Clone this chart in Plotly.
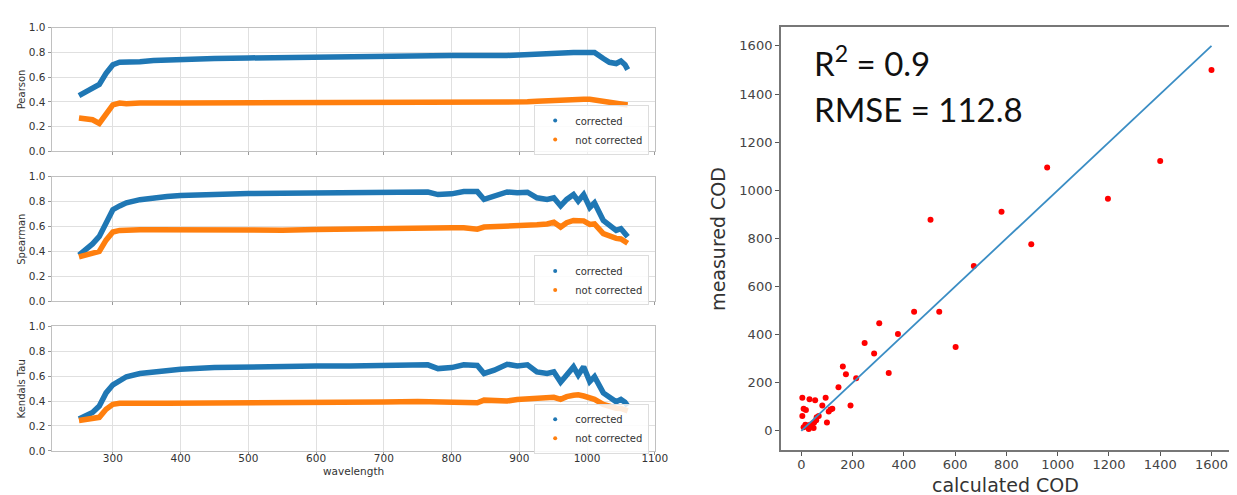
import plotly.graph_objects as go

# ---------------- data ----------------
wavelength = [250, 260, 270, 280, 290, 300, 310, 320, 340, 360, 380, 400, 450, 500, 550, 600,
              650, 700, 750, 765, 780, 800, 818, 838, 848, 863, 882, 897, 912, 926, 941, 951,
              961, 970, 980, 987, 995, 1004, 1011, 1024, 1033, 1043, 1050, 1056, 1060]

pearson_corr = [0.45, 0.48, 0.51, 0.54, 0.63, 0.70, 0.72, 0.72, 0.725, 0.735, 0.74, 0.745, 0.75, 0.755,
                0.76, 0.76, 0.765, 0.77, 0.77, 0.775, 0.775, 0.775, 0.775, 0.77, 0.775, 0.775, 0.775,
                0.78, 0.785, 0.79, 0.795, 0.80, 0.80, 0.805, 0.80, 0.80, 0.80, 0.80, 0.80, 0.75, 0.72,
                0.71, 0.73, 0.70, 0.66]
pearson_not = [0.27, 0.265, 0.255, 0.225, 0.31, 0.375, 0.39, 0.385, 0.39, 0.395, 0.39, 0.39, 0.39, 0.39,
               0.39, 0.39, 0.39, 0.39, 0.39, 0.39, 0.39, 0.39, 0.39, 0.39, 0.39, 0.392, 0.393,
               0.395, 0.40, 0.405, 0.41, 0.415, 0.415, 0.42, 0.415, 0.42, 0.42, 0.42, 0.415, 0.41, 0.40,
               0.395, 0.39, 0.385, 0.375]

spearman_corr = [0.37, 0.41, 0.46, 0.52, 0.64, 0.735, 0.765, 0.79, 0.815, 0.83, 0.84, 0.848, 0.86, 0.865,
                 0.867, 0.869, 0.87, 0.87, 0.87, 0.877, 0.856, 0.862, 0.88, 0.88, 0.817, 0.843, 0.877,
                 0.87, 0.875, 0.83, 0.817, 0.83, 0.765, 0.817, 0.856, 0.804, 0.856, 0.752, 0.79, 0.648,
                 0.608, 0.569, 0.582, 0.55, 0.517]
spearman_not = [0.355, 0.37, 0.38, 0.40, 0.49, 0.555, 0.568, 0.572, 0.574, 0.574, 0.573, 0.572, 0.57, 0.568,
                0.57, 0.575, 0.58, 0.587, 0.595, 0.595, 0.59, 0.59, 0.59, 0.578, 0.595, 0.597, 0.60,
                0.61, 0.614, 0.614, 0.62, 0.634, 0.595, 0.63, 0.648, 0.648, 0.645, 0.616, 0.62, 0.543,
                0.52, 0.504, 0.50, 0.48, 0.465]

kendall_corr = [0.256, 0.28, 0.308, 0.36, 0.465, 0.53, 0.569, 0.595, 0.621, 0.634, 0.645, 0.655, 0.668, 0.674,
                0.678, 0.681, 0.681, 0.681, 0.68, 0.69, 0.66, 0.668, 0.69, 0.685, 0.621, 0.647, 0.695,
                0.681, 0.69, 0.634, 0.621, 0.634, 0.551, 0.608, 0.674, 0.608, 0.674, 0.556, 0.595, 0.465,
                0.426, 0.394, 0.413, 0.39, 0.36]
kendall_not = [0.243, 0.25, 0.256, 0.269, 0.334, 0.373, 0.381, 0.383, 0.383, 0.382, 0.382, 0.382, 0.382, 0.385,
               0.385, 0.388, 0.39, 0.392, 0.396, 0.396, 0.394, 0.394, 0.394, 0.386, 0.407, 0.405, 0.40,
               0.412, 0.418, 0.418, 0.42, 0.43, 0.413, 0.435, 0.446, 0.45, 0.44, 0.43, 0.413, 0.373,
               0.355, 0.342, 0.34, 0.33, 0.321]

calculated_cod = [1600, 1400, 959, 1196, 504, 781, 897, 673, 440, 538, 304, 377, 247, 284, 602, 162, 174,
                  341, 214, 145, 95, 82, 192, 4, 32, 54, 9, 18, 4, 114, 121, 107, 68, 60, 100, 9, 22, 35,
                  48, 50, 58, 29, 42, 16]
measured_cod = [1500, 1122, 1095, 965, 878, 911, 776, 685, 495, 495, 447, 403, 365, 322, 349, 268, 236,
                241, 219, 181, 138, 106, 106, 138, 132, 127, 92, 87, 62, 89, 92, 81, 62, 57, 35, 15, 22, 26,
                12, 35, 44, 8, 18, 26]
fit_x = [0, 1600]
fit_y = [0, 1600]

panel_names = ["Pearson", "Spearman", "Kendals Tau"]
series_labels = ["corrected", "not corrected"]
r2_text = "R<sup>2</sup> = 0.9"
rmse_text = "RMSE = 112.8"

# ---------------- layout ----------------
W, H = 1237, 495
BLUE, ORANGE = "#1f77b4", "#ff7f0e"
FONT = "DejaVu Sans"

def px_x(p):
    return p / W

def px_y(p):
    return 1 - p / H

left_dom = [px_x(44), px_x(654)]
panel_px = [(14, 140.7), (166.7, 294.3), (320, 447.7)]
legend_mid_px = [119, 273, 425]

fig = go.Figure()

data_sets = [(pearson_corr, pearson_not), (spearman_corr, spearman_not), (kendall_corr, kendall_not)]
layout = dict()
annotations = []
for i, (corr, notc) in enumerate(data_sets):
    n = i + 1
    xa = "x" if n == 1 else f"x{n}"
    ya = "y" if n == 1 else f"y{n}"
    leg = "legend" if n == 1 else f"legend{n}"
    fig.add_trace(go.Scatter(x=wavelength, y=corr, mode="lines", line=dict(color=BLUE, width=5.5),
                             xaxis=xa, yaxis=ya, showlegend=False, hoverinfo="skip"))
    fig.add_trace(go.Scatter(x=wavelength, y=notc, mode="lines", line=dict(color=ORANGE, width=5.5),
                             xaxis=xa, yaxis=ya, showlegend=False, hoverinfo="skip"))
    # legend entries (marker style as in the reference)
    fig.add_trace(go.Scatter(x=[None], y=[None], mode="markers", name=series_labels[0],
                             marker=dict(color=BLUE, size=4), xaxis=xa, yaxis=ya, legend=leg))
    fig.add_trace(go.Scatter(x=[None], y=[None], mode="markers", name=series_labels[1],
                             marker=dict(color=ORANGE, size=4), xaxis=xa, yaxis=ya, legend=leg))
    top, bot = panel_px[i]
    layout[f"xaxis{'' if n == 1 else n}"] = dict(
        domain=left_dom, anchor=ya, range=[209.5, 1100.5], tickmode="array",
        tickvals=[300, 400, 500, 600, 700, 800, 900, 1000, 1100],
        showticklabels=(n == 3), ticks="outside", ticklen=3, tickcolor="#999",
        ticklabelstandoff=-5,
        showgrid=True, gridcolor="#e0e0e0", gridwidth=1, zeroline=False,
        showline=True, linecolor="#c0c0c0", linewidth=1, mirror=True,
        tickfont=dict(family=FONT, size=10.5, color="#333"))
    layout[f"yaxis{'' if n == 1 else n}"] = dict(
        domain=[px_y(bot), px_y(top)], anchor=xa, range=[0, 1], tickmode="array",
        tickvals=[0, 0.2, 0.4, 0.6, 0.8, 1.0], ticktext=["0.0", "0.2", "0.4", "0.6", "0.8", "1.0"],
        ticks="outside", ticklen=3, tickcolor="#999",
        showgrid=True, gridcolor="#e0e0e0", gridwidth=1, zeroline=False,
        showline=True, linecolor="#c0c0c0", linewidth=1, mirror=True,
        tickfont=dict(family=FONT, size=10.5, color="#333"))
    layout[leg] = dict(x=px_x(648), y=px_y(legend_mid_px[i]), xanchor="right", yanchor="middle",
                       bgcolor="rgba(255,255,255,0.85)", bordercolor="#dddddd", borderwidth=1,
                       font=dict(family=FONT, size=10, color="#333"), itemwidth=30,
                       tracegroupgap=0)
    annotations.append(dict(text=panel_names[i], x=px_x(14), y=px_y((top + bot) / 2), xref="paper",
                            yref="paper", textangle=-90, showarrow=False, xanchor="center",
                            yanchor="middle", font=dict(family=FONT, size=10, color="#333")))

annotations.append(dict(text="wavelength", x=px_x(349), y=px_y(468), xref="paper", yref="paper",
                        showarrow=False, xanchor="center", yanchor="middle",
                        font=dict(family=FONT, size=10.5, color="#333")))

# scatter panel
fig.add_trace(go.Scatter(x=calculated_cod, y=measured_cod, mode="markers",
                         marker=dict(color="#ff0000", size=6), xaxis="x4", yaxis="y4",
                         showlegend=False))
fig.add_trace(go.Scatter(x=fit_x, y=fit_y, mode="lines", line=dict(color="#3a8dc4", width=1.8),
                         xaxis="x4", yaxis="y4", showlegend=False))

layout["xaxis4"] = dict(domain=[px_x(781), 1.0], anchor="y4", range=[-80, 1680], tickmode="array",
                        tickvals=list(range(0, 1601, 200)), ticks="outside", ticklen=4, tickcolor="#555",
                        ticklabelstandoff=-3,
                        showgrid=False, zeroline=False, showline=True, linecolor="#777", linewidth=1.5,
                        mirror=True, tickfont=dict(family=FONT, size=13, color="#444"))
layout["yaxis4"] = dict(domain=[px_y(447), px_y(13)], anchor="x4", range=[-80, 1680], tickmode="array",
                        tickvals=list(range(0, 1601, 200)), ticks="outside", ticklen=4, tickcolor="#555",
                        showgrid=False, zeroline=False, showline=True, linecolor="#777", linewidth=1.5,
                        mirror=True, tickfont=dict(family=FONT, size=13, color="#444"))

annotations.append(dict(text="calculated COD", x=px_x(1008), y=px_y(483), xref="paper", yref="paper",
                        showarrow=False, xanchor="center", yanchor="middle",
                        font=dict(family=FONT, size=19, color="#333")))
annotations.append(dict(text="measured COD", x=px_x(718), y=px_y(230), xref="paper", yref="paper",
                        showarrow=False, xanchor="center", yanchor="middle", textangle=-90,
                        font=dict(family=FONT, size=19, color="#333")))
annotations.append(dict(text=r2_text, x=px_x(813), y=px_y(48), xref="paper", yref="paper",
                        showarrow=False, xanchor="left", yanchor="middle",
                        font=dict(family="Lato", size=33, color="#111")))
annotations.append(dict(text=rmse_text, x=px_x(813), y=px_y(97), xref="paper", yref="paper",
                        showarrow=False, xanchor="left", yanchor="middle",
                        font=dict(family="Lato", size=33, color="#111")))

fig.update_layout(**layout)
fig.update_layout(width=W, height=H, margin=dict(l=0, r=0, t=0, b=0), paper_bgcolor="white",
                  plot_bgcolor="white", annotations=annotations, showlegend=True)

fig.write_html("out.html")
